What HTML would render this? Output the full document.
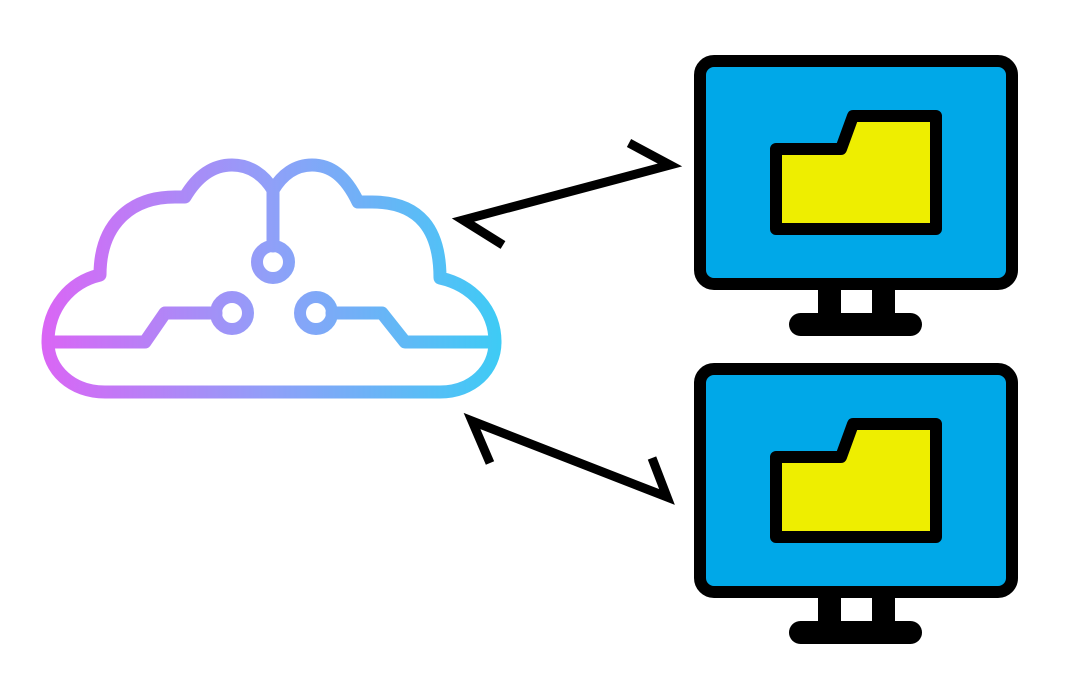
<!DOCTYPE html>
<html><head><meta charset="utf-8"><style>html,body{margin:0;padding:0;background:#fff;}svg{display:block}</style></head>
<body>
<svg width="1080" height="700" viewBox="0 0 1080 700" xmlns="http://www.w3.org/2000/svg">
<defs>
<linearGradient id="g" gradientUnits="userSpaceOnUse" x1="45" y1="0" x2="500" y2="0">
<stop offset="0" stop-color="#d966f5"/><stop offset="0.5" stop-color="#8fa0f8"/><stop offset="1" stop-color="#3ecbf5"/>
</linearGradient>
<g id="mon">
<rect x="700" y="61" width="312" height="223" rx="14" fill="#00a8e8" stroke="#000" stroke-width="12"/>
<rect x="818" y="290" width="23" height="24" fill="#000"/>
<rect x="872" y="290" width="23" height="24" fill="#000"/>
<rect x="789" y="313" width="133" height="23" rx="11.5" fill="#000"/>
<path d="M776,149 L841,149 L853,116 L936,116 L936,229 L776,229 Z" fill="#eeee00" stroke="#000" stroke-width="12" stroke-linejoin="round"/>
</g>
</defs>
<use href="#mon"/>
<use href="#mon" y="308"/>
<g fill="none" stroke="url(#g)" stroke-width="13" stroke-linecap="round" stroke-linejoin="round">
<path d="M105,392 L440,392 C472,392 495,370 495,342 C495,310 472,285 440,278 C440,230 420,202 372,202 L358,202 C345,175 330,165 312,165 C295,165 282,175 273,190 C264,175 250,165 232,165 C210,165 195,180 185,197 L175,197 C130,197 100,225 100,275 C70,282 48,308 48,342 C48,370 72,392 105,392 Z"/>
<path d="M48,342 L145,342 L165,313 L216,313"/>
<path d="M495,342 L405,342 L382,313 L332,313"/>
<path d="M273,190 L273,246"/>
<circle cx="273" cy="262" r="16" stroke-width="12"/>
<circle cx="232" cy="313" r="16" stroke-width="12"/>
<circle cx="316" cy="313" r="16" stroke-width="12"/>
</g>
<g stroke="#000" stroke-width="9" fill="none" stroke-linecap="butt" stroke-linejoin="miter">
<path d="M503,245 L463,220 L670,165 L629,143"/>
<path d="M490,463 L472,421 L667,497 L652,458"/>
</g>
</svg>
</body></html>
